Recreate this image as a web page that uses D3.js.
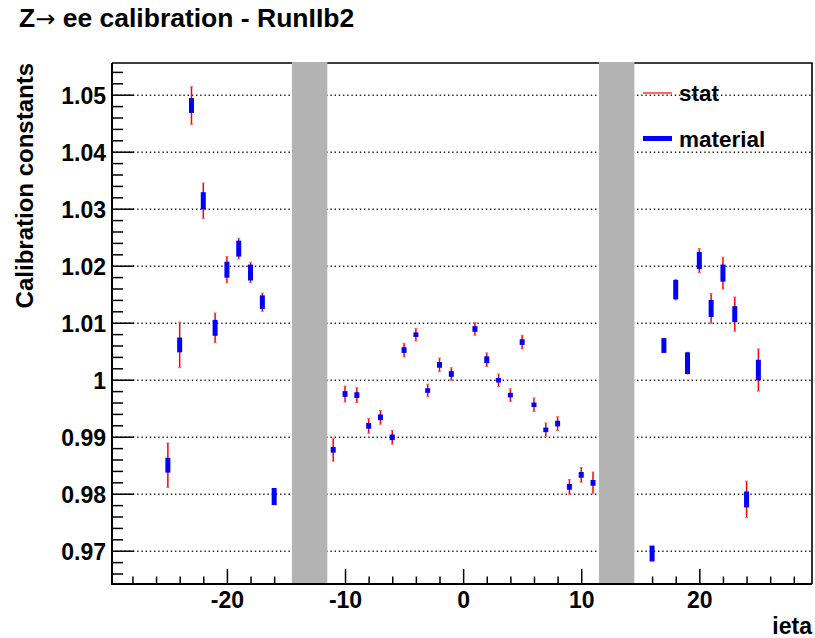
<!DOCTYPE html>
<html>
<head>
<meta charset="utf-8">
<script src="https://cdn.jsdelivr.net/npm/d3@7"></script>
<style>
    body { margin: 0; background: #fff; }
    svg { display: block; font-family: "Liberation Sans", Arial, sans-serif; font-weight: bold; }
    .grid line { stroke: #222; stroke-width: 1.4; stroke-dasharray: 1.4 2.8; }
    .grid path { display: none; }
</style>
</head>
<body>
<svg id="chart"></svg>
<script>
// ieta bins, calibration constant, stat error, material error
const ieta = [-25, -24, -23, -22, -21, -20, -19, -18, -17, -16,
    -11, -10, -9, -8, -7, -6, -5, -4, -3, -2, -1,
    1, 2, 3, 4, 5, 6, 7, 8, 9, 10, 11,
    16, 17, 18, 19, 20, 21, 22, 23, 24, 25];
const calib = [0.9850, 1.0061, 1.0481, 1.0314, 1.0091, 1.0193, 1.0230, 1.0188, 1.0136, 0.9795,
    0.9877, 0.9975, 0.9973, 0.9919, 0.9934, 0.9899, 1.0052, 1.0079, 0.9981, 1.0026, 1.0010,
    1.0089, 1.0035, 0.9999, 0.9973, 1.0066, 0.9956, 0.9912, 0.9923, 0.9812, 0.9833, 0.9819,
    0.9695, 1.0060, 1.0158, 1.0029, 1.0209, 1.0125, 1.0187, 1.0115, 0.9790, 1.0017];
const statErr = [0.0039, 0.0040, 0.0033, 0.0031, 0.0026, 0.0023, 0.0018, 0.0018, 0.0016, 0.0012,
    0.0020, 0.0014, 0.0013, 0.0013, 0.0012, 0.0012, 0.0012, 0.0011, 0.0011, 0.0012, 0.0011,
    0.0011, 0.0012, 0.0011, 0.0011, 0.0012, 0.0012, 0.0012, 0.0012, 0.0013, 0.0013, 0.0019,
    0.0011, 0.0012, 0.0018, 0.0019, 0.0021, 0.0026, 0.0028, 0.0030, 0.0032, 0.0037];
const materialErr = [0.0013, 0.0013, 0.0013, 0.0015, 0.0014, 0.0014, 0.0014, 0.0014, 0.0012, 0.0015,
    0.0005, 0.0005, 0.0005, 0.0005, 0.0005, 0.0005, 0.0005, 0.0004, 0.0004, 0.0005, 0.0005,
    0.0005, 0.0006, 0.0004, 0.0004, 0.0005, 0.0004, 0.0004, 0.0005, 0.0005, 0.0005, 0.0005,
    0.0014, 0.0013, 0.0017, 0.0019, 0.0015, 0.0015, 0.0015, 0.0014, 0.0014, 0.0018];

// excluded regions (grey)
const crackBands = [[-14.5, -11.5], [11.5, 14.5]];

const xTickValues = [-20, -10, 0, 10, 20];
const xTickLabels = ["-20", "-10", "0", "10", "20"];
const yTickValues = [0.97, 0.98, 0.99, 1.00, 1.01, 1.02, 1.03, 1.04, 1.05];
const yTickLabels = ["0.97", "0.98", "0.99", "1", "1.01", "1.02", "1.03", "1.04", "1.05"];

const legendItems = ["stat", "material"];

const width = 815, height = 638;
const frame = { left: 112, right: 812, top: 63, bottom: 584 };

const svg = d3.select("#chart").attr("width", width).attr("height", height);

const x = d3.scaleLinear().domain([-29.73, 29.54]).range([frame.left, frame.right]);
const y = d3.scaleLinear().domain([0.96416, 1.05556]).range([frame.bottom, frame.top]);

// horizontal dotted grid
svg.append("g")
    .attr("class", "grid")
    .attr("transform", `translate(${frame.left},0)`)
    .call(d3.axisLeft(y).tickValues(yTickValues).tickSize(-(frame.right - frame.left)).tickFormat(""));

// y axis minor + major ticks
const yMinor = d3.range(0.966, 1.0551, 0.002).filter(v => !yTickValues.some(t => Math.abs(t - v) < 1e-6));
svg.append("g")
    .attr("transform", `translate(${frame.left},0)`)
    .call(d3.axisLeft(y).tickValues(yMinor).tickSize(-11).tickSizeOuter(0).tickFormat(""))
    .call(g => g.select(".domain").remove())
    .call(g => g.selectAll("line").attr("stroke-width", 1.5));

svg.append("g")
    .attr("transform", `translate(${frame.left},0)`)
    .call(d3.axisLeft(y).tickValues(yTickValues).tickSize(-22).tickSizeOuter(0).tickPadding(6)
        .tickFormat((d, i) => yTickLabels[i]))
    .call(g => g.select(".domain").remove())
    .call(g => g.selectAll("line").attr("stroke-width", 1.5))
    .call(g => g.selectAll("text")
        .attr("font-size", 23)
        .attr("font-family", "Liberation Sans, Arial, sans-serif")
        .attr("font-weight", "bold")
        .attr("fill", "#000")
        .attr("dy", "0.4em"));

// x axis ticks
const xMinor = d3.range(-28, 29, 2).filter(v => v % 10 !== 0);
svg.append("g")
    .attr("transform", `translate(0,${frame.bottom})`)
    .call(d3.axisBottom(x).tickValues(xMinor).tickSize(-7.5).tickSizeOuter(0).tickFormat(""))
    .call(g => g.select(".domain").remove())
    .call(g => g.selectAll("line").attr("stroke-width", 1.5));

svg.append("g")
    .attr("transform", `translate(0,${frame.bottom})`)
    .call(d3.axisBottom(x).tickValues(xTickValues).tickSize(-15).tickSizeOuter(0).tickPadding(8)
        .tickFormat((d, i) => xTickLabels[i]))
    .call(g => g.select(".domain").remove())
    .call(g => g.selectAll("line").attr("stroke-width", 1.5))
    .call(g => g.selectAll("text")
        .attr("font-size", 23)
        .attr("font-family", "Liberation Sans, Arial, sans-serif")
        .attr("font-weight", "bold")
        .attr("fill", "#000"));

// top and right frame
svg.append("path")
    .attr("d", `M${frame.left},${frame.top}H${frame.right}V${frame.bottom}`)
    .attr("fill", "none")
    .attr("stroke", "#000")
    .attr("stroke-width", 1.6);

// data points
const points = ieta.map((e, i) => ({ e, v: calib[i], s: statErr[i], m: materialErr[i] }));
const marks = svg.append("g").selectAll("g").data(points).join("g");

marks.append("line")
    .attr("x1", d => x(d.e)).attr("x2", d => x(d.e))
    .attr("y1", d => y(d.v + d.s)).attr("y2", d => y(d.v - d.s))
    .attr("stroke", "#ff0000").attr("stroke-width", 1.5);

marks.selectAll(".cap")
    .data(d => [d.v + d.s, d.v - d.s].map(v => ({ e: d.e, v })))
    .join("line")
    .attr("class", "cap")
    .attr("x1", d => x(d.e) - 1.5).attr("x2", d => x(d.e) + 1.5)
    .attr("y1", d => y(d.v)).attr("y2", d => y(d.v))
    .attr("stroke", "#ff6060").attr("stroke-width", 1);

marks.append("rect")
    .attr("x", d => x(d.e) - 2.5)
    .attr("width", 5)
    .attr("y", d => y(d.v + d.m))
    .attr("height", d => y(d.v - d.m) - y(d.v + d.m))
    .attr("fill", "#0000ff");

// grey bands for excluded regions
svg.append("g").selectAll("rect")
    .data(crackBands)
    .join("rect")
    .attr("x", d => x(d[0]))
    .attr("width", d => x(d[1]) - x(d[0]))
    .attr("y", frame.top - 1)
    .attr("height", frame.bottom - frame.top + 1)
    .attr("fill", "#b3b3b3");

// left and bottom axis lines
svg.append("path")
    .attr("d", `M${frame.left},${frame.top}V${frame.bottom}H${frame.right}`)
    .attr("fill", "none")
    .attr("stroke", "#000")
    .attr("stroke-width", 2);

// legend
const legend = svg.append("g");
legend.append("line")
    .attr("x1", 643).attr("x2", 672).attr("y1", 93).attr("y2", 93)
    .attr("stroke", "#ff0000").attr("stroke-width", 1.2);
legend.append("line")
    .attr("x1", 643).attr("x2", 672).attr("y1", 138.5).attr("y2", 138.5)
    .attr("stroke", "#0000ff").attr("stroke-width", 5);
legend.selectAll("text")
    .data(legendItems)
    .join("text")
    .attr("x", 679)
    .attr("y", (d, i) => 101 + i * 46)
    .attr("font-size", 22.5)
    .text(d => d);

// titles
const title = svg.append("text").attr("x", 19).attr("y", 27).attr("font-size", 26.5);
title.append("tspan").text("Z");
title.append("tspan")
    .attr("font-family", "DejaVu Sans, sans-serif")
    .attr("font-weight", "normal")
    .attr("font-size", 24)
    .text("\u2192");
title.append("tspan").text(" ee calibration - RunIIb2");

svg.append("text")
    .attr("transform", `translate(33,${frame.top}) rotate(-90)`)
    .attr("text-anchor", "end")
    .attr("font-size", 24)
    .text("Calibration constants");

svg.append("text")
    .attr("x", frame.right)
    .attr("y", 634)
    .attr("text-anchor", "end")
    .attr("font-size", 23)
    .text("ieta");
</script>
</body>
</html>
